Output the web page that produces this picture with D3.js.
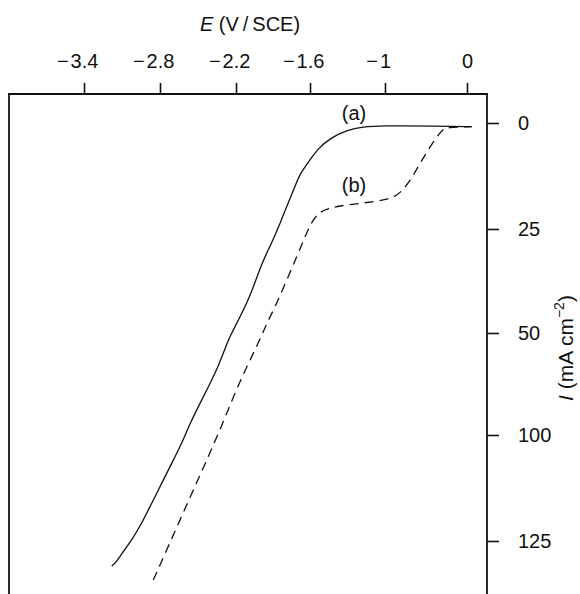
<!DOCTYPE html>
<html>
<head>
<meta charset="utf-8">
<script src="https://cdn.jsdelivr.net/npm/d3@7"></script>
<style>
  html, body { margin: 0; padding: 0; background: #fff; }
  svg { display: block; }
  text { font-family: "Liberation Sans", Arial, Helvetica, sans-serif; fill: #111; }
</style>
</head>
<body>
<svg id="chart" width="580" height="594"></svg>
<script>
// Tick values (axis labels as printed on the original figure)
const xTickValues = [-3.4, -2.8, -2.2, -1.6, -1, 0];
const yTickValues = [0, 25, 50, 100, 125];

// Curve (a): solid line — E (V/SCE), I (mA cm^-2)
const curveA_E = [-3.181, -3.142, -3.102, -3.023, -2.944, -2.879, -2.787, -2.708, -2.616, -2.563, -2.484, -2.405, -2.340, -2.261, -2.234, -2.168, -2.086, -1.992, -1.911, -1.843, -1.789, -1.722, -1.681, -1.600, -1.534, -1.440, -1.306, -1.174, -1.040, -0.370, 0.057];
const curveA_I = [130.9, 129.9, 127.9, 124.8, 120.8, 116.9, 111.4, 106.7, 101.2, 94.3, 84.5, 74.7, 66.5, 53.4, 50.1, 46.1, 41.3, 33.2, 28.4, 23.7, 19.7, 15.0, 11.9, 8.7, 6.0, 3.6, 1.65, 0.87, 0.64, 0.70, 0.87];

// Curve (b): dashed line
const curveB_E = [-2.853, -2.747, -2.642, -2.537, -2.431, -2.326, -2.221, -2.113, -2.019, -1.951, -1.870, -1.789, -1.708, -1.641, -1.586, -1.534, -1.466, -1.306, -1.094, -0.899, -0.777, -0.674, -0.573, -0.451, -0.309, -0.248, 0.057];
const curveB_I = [134.2, 127.1, 120.0, 113.0, 105.9, 97.5, 81.2, 66.5, 55.0, 47.7, 42.9, 37.3, 31.7, 26.9, 23.3, 21.3, 20.1, 19.3, 18.6, 17.8, 15.8, 13.0, 9.5, 5.6, 1.65, 1.0, 0.87];

const svg = d3.select("#chart");
const FS = 20;

// Frame
const frameL = 9, frameR = 487, frameT = 94, frameB = 594;

// The printed axes are not evenly spaced in value, so the scales are piecewise-linear
const x = d3.scaleLinear()
  .domain(xTickValues)
  .range([84, 160, 236, 310, 385, 467]);
const y = d3.scaleLinear()
  .domain(yTickValues)
  .range([123, 229, 333, 435, 541]);

// Top axis: digits centred on the tick, minus sign hanging to the left
const xAxis = svg.append("g")
  .attr("transform", `translate(0,${frameT})`)
  .call(d3.axisTop(x).tickValues(xTickValues).tickFormat(v => String(Math.abs(v))).tickSize(11).tickPadding(15));
xAxis.select(".domain").remove();
xAxis.selectAll(".tick line").attr("stroke", "#111").attr("stroke-width", 1.6);
xAxis.selectAll(".tick text")
  .attr("font-size", FS).attr("fill", "#111").attr("dy", 0).attr("y", -26);
xAxis.selectAll(".tick").each(function(d) {
  if (d < 0) {
    const t = d3.select(this).select("text");
    const w = t.node().getComputedTextLength();
    d3.select(this).append("text")
      .attr("x", -w / 2 - 2)
      .attr("y", -26)
      .attr("text-anchor", "end")
      .attr("font-size", FS)
      .attr("fill", "#111")
      .text("\u2212");
  }
});

// Right axis
const yAxis = svg.append("g")
  .attr("transform", `translate(${frameR},0)`)
  .call(d3.axisRight(y).tickValues(yTickValues).tickFormat(String).tickSize(12).tickPadding(19));
yAxis.select(".domain").remove();
yAxis.selectAll(".tick line").attr("stroke", "#111").attr("stroke-width", 1.6);
yAxis.selectAll(".tick text").attr("font-size", FS).attr("fill", "#111");

// Frame lines (top, left, right; bottom is open)
svg.append("path")
  .attr("d", `M${frameL},${frameB} L${frameL},${frameT} L${frameR},${frameT} L${frameR},${frameB}`)
  .attr("fill", "none")
  .attr("stroke", "#111")
  .attr("stroke-width", 1.8);

// Curves
const line = d3.line()
  .x(d => x(d[0]))
  .y(d => y(d[1]))
  .curve(d3.curveBasis);

const dataA = curveA_E.map((e, i) => [e, curveA_I[i]]);
const dataB = curveB_E.map((e, i) => [e, curveB_I[i]]);

svg.append("path")
  .datum(dataA)
  .attr("d", line)
  .attr("fill", "none")
  .attr("stroke", "#111")
  .attr("stroke-width", 1.3);

svg.append("path")
  .datum(dataB)
  .attr("d", line)
  .attr("fill", "none")
  .attr("stroke", "#111")
  .attr("stroke-width", 1.3)
  .attr("stroke-dasharray", "9,6");

// Curve labels
svg.append("text").attr("x", 354).attr("y", 120).attr("text-anchor", "middle")
  .attr("font-size", FS).text("(a)");
svg.append("text").attr("x", 354).attr("y", 192).attr("text-anchor", "middle")
  .attr("font-size", FS).text("(b)");

// Axis titles
const xt = svg.append("text").attr("x", 250).attr("y", 31).attr("text-anchor", "middle")
  .attr("font-size", FS);
xt.append("tspan").attr("font-style", "italic").text("E");
xt.append("tspan").text(" (V\u2009/\u2009SCE)");

const yt = svg.append("text")
  .attr("transform", "translate(573,348) rotate(-90)")
  .attr("text-anchor", "middle")
  .attr("font-size", 21);
yt.append("tspan").attr("font-style", "italic").text("I");
yt.append("tspan").text(" (mA cm");
yt.append("tspan").attr("font-size", 14).attr("dy", -9).text("\u22122");
yt.append("tspan").attr("dy", 9).text(")");
</script>
</body>
</html>
